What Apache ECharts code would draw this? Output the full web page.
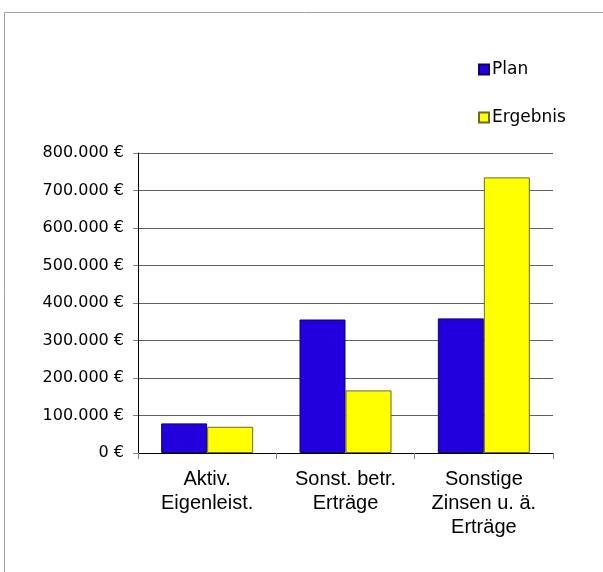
<!DOCTYPE html>
<html>
<head>
<meta charset="utf-8">
<script src="https://cdn.jsdelivr.net/npm/echarts@6/dist/echarts.min.js"></script>
<style>
html, body { margin: 0; padding: 0; background: #fff; }
#chart { width: 603px; height: 572px; }
</style>
</head>
<body>
<div id="chart"></div>
<script>
// Kategorien und Werte (in €)
const categories = ['Aktiv.\nEigenleist.', 'Sonst. betr.\nErträge', 'Sonstige\nZinsen u. ä.\nErträge'];
const planValues = [79000, 356000, 359000];
const ergebnisValues = [70000, 167000, 735000];
const seriesNames = ['Plan', 'Ergebnis'];

// 800000 -> "800.000 €"
function euro(v) {
	let s = String(Math.round(v)).replace(/\B(?=(\d{3})+(?!\d))/g, '.');
	return s + ' €';
}

const myCharts = echarts.init(document.getElementById('chart'));

let option = {
	animation: false,
	backgroundColor: '#fff',
	graphic: [{
		type: 'rect',
		shape: { x: 4.5, y: 12.5, width: 700, height: 700 },
		style: { fill: 'none', stroke: '#a0a0a0', lineWidth: 1 },
		silent: true
	}],
	legend: {
		orient: 'vertical',
		left: 473,
		top: 56,
		itemWidth: 10,
		itemHeight: 10,
		itemGap: 31,
		icon: 'rect',
		data: seriesNames,
		textStyle: {
			fontFamily: 'DejaVu Sans',
			fontSize: 17,
			color: '#000',
			padding: [0, 0, 0, -2]
		}
	},
	grid: {
		left: 138,
		right: 50,
		top: 153,
		bottom: 119
	},
	xAxis: {
		type: 'category',
		data: categories,
		axisLine: { lineStyle: { color: '#000', width: 1 } },
		axisTick: { show: true, length: 6, lineStyle: { color: '#808080' } },
		axisLabel: {
			fontFamily: 'Liberation Sans',
			fontSize: 20,
			lineHeight: 24,
			color: '#000',
			margin: 14,
			interval: 0
		}
	},
	yAxis: {
		type: 'value',
		min: 0,
		max: 800000,
		interval: 100000,
		axisLine: { show: true, lineStyle: { color: '#000', width: 1 } },
		axisTick: { show: true, length: 5, lineStyle: { color: '#808080' } },
		splitLine: { lineStyle: { color: '#606060', width: 1 } },
		axisLabel: {
			fontFamily: 'DejaVu Sans',
			fontSize: 16,
			color: '#000',
			margin: 14,
			formatter: euro
		}
	},
	series: [{
		name: seriesNames[0],
		type: 'bar',
		barWidth: 46,
		barGap: 0,
		data: planValues,
		itemStyle: { color: '#2200dd', borderColor: '#10006a', borderWidth: 1 }
	}, {
		name: seriesNames[1],
		type: 'bar',
		barWidth: 46,
		barGap: 0,
		data: ergebnisValues,
		itemStyle: { color: '#ffff00', borderColor: '#6b6b20', borderWidth: 1 }
	}]
};

myCharts.setOption(option);
</script>
</body>
</html>
